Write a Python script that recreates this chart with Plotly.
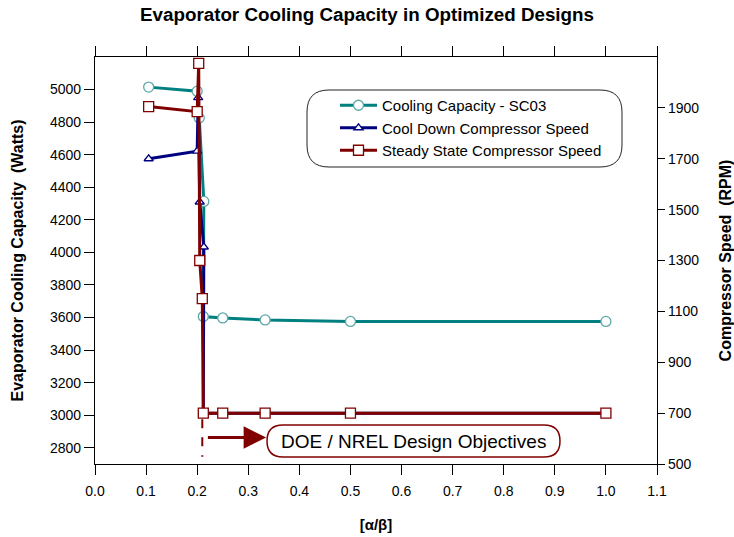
import plotly.graph_objects as go

# ---------------- data ----------------
cap_x = [0.105, 0.200, 0.204, 0.213, 0.212, 0.250, 0.333, 0.500, 1.000]
cap_y = [5015, 4990, 4826, 4313, 3606, 3597, 3585, 3576, 3576]

cool_x = [0.105, 0.200, 0.202, 0.205, 0.213, 0.212, 0.250, 0.333, 0.500, 1.000]
cool_y = [1700, 1730, 1940, 1530, 1353, 700, 700, 700, 700, 700]

ss_x = [0.105, 0.200, 0.203, 0.205, 0.210, 0.212, 0.250, 0.333, 0.500, 1.000]
ss_y = [1905, 1885, 2075, 1300, 1150, 700, 700, 700, 700, 700]

x_ticks = [round(0.1 * i, 1) for i in range(12)]
left_ticks = list(range(2800, 5001, 200))
right_ticks = list(range(500, 1901, 200))

FONT = "Liberation Sans, Arial, sans-serif"
TEAL = "#008080"
NAVY = "#000080"
DRED = "#800000"

# ---------------- figure ----------------
fig = go.Figure()
fig.add_trace(go.Scatter(
    x=cap_x, y=cap_y, name="Cooling Capacity - SC03", mode="lines+markers",
    line=dict(color=TEAL, width=3),
    marker=dict(symbol="circle", size=10, color="white",
                line=dict(color="#5fa8a8", width=1.3)),
    yaxis="y"))
fig.add_trace(go.Scatter(
    x=cool_x, y=cool_y, name="Cool Down Compressor Speed", mode="lines+markers",
    line=dict(color=NAVY, width=3),
    marker=dict(symbol="triangle-up", size=8, color="white",
                line=dict(color=NAVY, width=1.3)),
    yaxis="y2"))
fig.add_trace(go.Scatter(
    x=ss_x, y=ss_y, name="Steady State Compressor Speed", mode="lines+markers",
    line=dict(color=DRED, width=3),
    marker=dict(symbol="square", size=10, color="white",
                line=dict(color=DRED, width=1.3)),
    yaxis="y2"))

W_PLOT = 734 - 95 - 77
H_PLOT = 537 - 57 - 73


def X(p):
    return (p - 95) / W_PLOT


def Y(p):
    return (464 - p) / H_PLOT


def rounded_rect(px0, py0, px1, py1, r):
    """Rounded rectangle in paper coords, given pixel-space extents in page."""
    return (f"M{X(px0 + r)},{Y(py0)} L{X(px1 - r)},{Y(py0)} "
            f"Q{X(px1)},{Y(py0)} {X(px1)},{Y(py0 + r)} "
            f"L{X(px1)},{Y(py1 - r)} Q{X(px1)},{Y(py1)} {X(px1 - r)},{Y(py1)} "
            f"L{X(px0 + r)},{Y(py1)} Q{X(px0)},{Y(py1)} {X(px0)},{Y(py1 - r)} "
            f"L{X(px0)},{Y(py0 + r)} Q{X(px0)},{Y(py0)} {X(px0 + r)},{Y(py0)} Z")


shapes = [
    dict(type="path", xref="paper", yref="paper",
         path=rounded_rect(307, 90, 622, 167, 22),
         line=dict(color="#222222", width=1), fillcolor="rgba(0,0,0,0)"),
    dict(type="path", xref="paper", yref="paper",
         path=rounded_rect(267, 425, 560, 457, 16),
         line=dict(color=DRED, width=1.5), fillcolor="white"),
    dict(type="line", xref="x", yref="y", x0=0.21, x1=0.21, y0=2975, y1=2745,
         line=dict(color=DRED, width=2, dash="dash")),
]

annotations = [
    dict(x=0.335, y=2863, ax=0.218, ay=2863, xref="x", yref="y",
         axref="x", ayref="y", text="", showarrow=True,
         arrowhead=2, arrowsize=1.5, arrowwidth=3, arrowcolor=DRED),
    dict(x=X(413.5), y=Y(441), xref="paper", yref="paper",
         xanchor="center", yanchor="middle",
         text="DOE / NREL Design Objectives", showarrow=False,
         font=dict(family=FONT, size=19, color="black")),
]

axis_common = dict(showline=True, linecolor="black", linewidth=1.2,
                   ticks="outside", tickcolor="black", showgrid=False,
                   zeroline=False, automargin=False,
                   tickfont=dict(family=FONT, size=14, color="black"))

fig.update_layout(
    width=734, height=537,
    margin=dict(l=95, r=77, t=57, b=73),
    paper_bgcolor="white", plot_bgcolor="white",
    title=dict(text="<b>Evaporator Cooling Capacity in Optimized Designs</b>",
               x=0.5, xanchor="center", y=0.974, yanchor="middle",
               font=dict(family=FONT, size=18.8, color="black")),
    xaxis=dict(range=[0, 1.1], tickvals=x_ticks,
               ticktext=[f"{v:.1f}" for v in x_ticks], mirror="ticks", ticklen=10,
               ticklabelstandoff=4,
               title=dict(text="<b>[α/β]</b>", standoff=21,
                          font=dict(family=FONT, size=15, color="black")),
               **axis_common),
    yaxis=dict(range=[2700, 5200], tickvals=left_ticks, ticklen=10,
               title=dict(text="<b>Evaporator Cooling Capacity  (Watts)</b>", standoff=22,
                          font=dict(family=FONT, size=16, color="black")),
               **axis_common),
    yaxis2=dict(range=[500, 2100], tickvals=right_ticks, ticklen=7,
                overlaying="y", side="right",
                title=dict(text="<b>Compressor Speed  (RPM)</b>", standoff=21,
                           font=dict(family=FONT, size=16, color="black")),
                **axis_common),
    legend=dict(x=X(335), y=Y(89), xanchor="left", yanchor="top",
                bgcolor="rgba(0,0,0,0)", borderwidth=0, itemwidth=37,
                font=dict(family=FONT, size=15, color="black"), tracegroupgap=0),
    shapes=shapes,
    annotations=annotations,
)

fig.write_html("out.html")
